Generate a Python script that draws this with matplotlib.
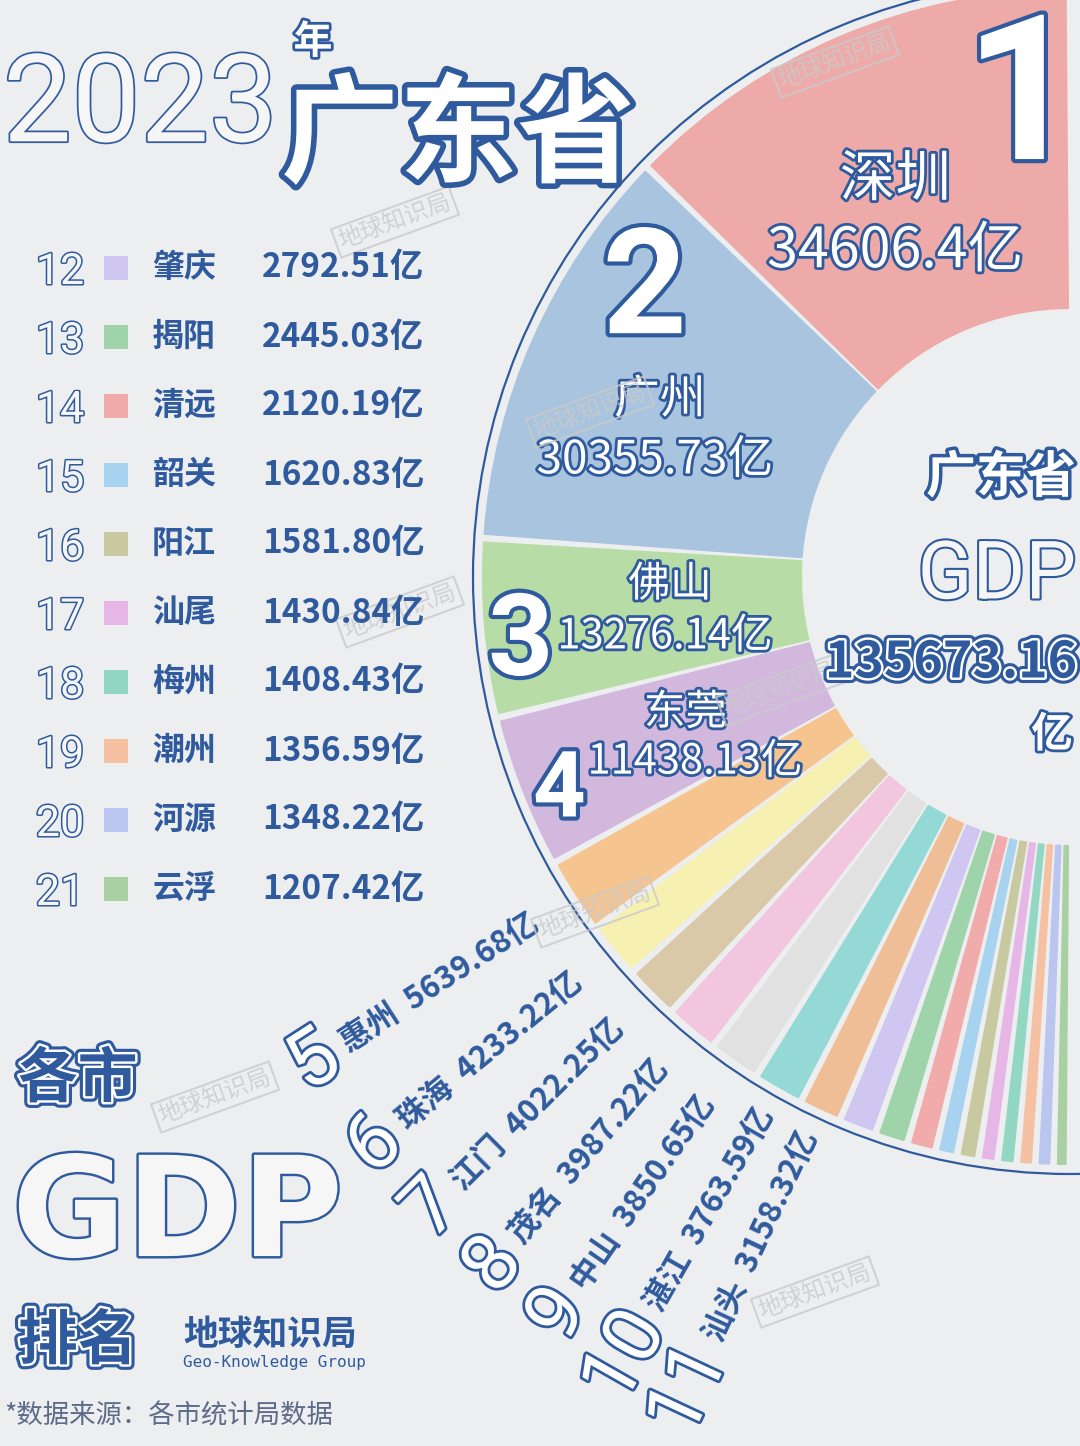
import numpy as np
import matplotlib
matplotlib.use('Agg')
import matplotlib.pyplot as plt
from matplotlib import patheffects as pe
from matplotlib.transforms import offset_copy

# ---- data ----
cities = ['深圳', '广州', '佛山', '东莞', '惠州', '珠海', '江门', '茂名', '中山', '湛江', '汕头',
          '肇庆', '揭阳', '清远', '韶关', '阳江', '汕尾', '梅州', '潮州', '河源', '云浮']
gdp = [34606.40, 30355.73, 13276.14, 11438.13, 5639.68, 4233.22, 4022.25, 3987.22,
       3850.65, 3763.59, 3158.32, 2792.51, 2445.03, 2120.19, 1620.83, 1581.80,
       1430.84, 1408.43, 1356.59, 1348.22, 1207.42]
gdp_labels = ['34606.4', '30355.73', '13276.14', '11438.13', '5639.68', '4233.22', '4022.25',
              '3987.22', '3850.65', '3763.59', '3158.32', '2792.51', '2445.03', '2120.19',
              '1620.83', '1581.80', '1430.84', '1408.43', '1356.59', '1348.22', '1207.42']
ranks = list(range(1, 22))
province_total = 135673.16

bar_colors = ['#eeaaa8', '#a9c4de', '#b7dca6', '#d3b8de', '#f5c48f', '#f6f1b1', '#d9c9a9',
              '#f1c6de', '#e1e1e1', '#94d9d6', '#efbe97', '#cfc6f1', '#9fd4aa', '#f1abab',
              '#a8d3f0', '#c9c9a1', '#e6b7e6', '#91d7c1', '#f5c1a2', '#bac5f0', '#a9d0a2']

BLUE = '#2f5b9e'
BG = '#edeeef'
HOLLOW = '#f6f6f6'
LATIN = ['Roboto', 'Liberation Sans', 'DejaVu Sans']
plt.rcParams['font.family'] = ['Noto Sans CJK SC', 'DejaVu Sans']

W, H = 1080, 1446
fig = plt.figure(figsize=(W / 100, H / 100), dpi=100, facecolor=BG)

# ---- radial bars: angle share = GDP share over a half circle ----
CX, CY, R_CIRCLE = 1070, 577, 597
BAR_IN, BAR_OUT = 269, 587
GAP = np.deg2rad(0.85)

vals = np.array(gdp)
span = np.pi * vals / vals.sum()
start = np.pi / 2 + np.concatenate([[0], np.cumsum(span)[:-1]])
mid = start + span / 2

axp = fig.add_axes([(CX - R_CIRCLE) / W, (H - CY - R_CIRCLE) / H, 2 * R_CIRCLE / W, 2 * R_CIRCLE / H],
                   projection='polar')
axp.set_facecolor('none')
axp.set_ylim(0, R_CIRCLE)
axp.bar(mid, BAR_OUT - BAR_IN, width=span - GAP, bottom=BAR_IN, color=bar_colors,
        edgecolor=bar_colors, linewidth=1.5, joinstyle='round')
axp.grid(False)
axp.set_xticks([])
axp.set_yticks([])
axp.spines['polar'].set_color(BLUE)
axp.spines['polar'].set_linewidth(1.6)

white_out = lambda lw: [pe.withStroke(linewidth=lw, foreground=BLUE)]
heavy = [pe.Stroke(linewidth=8, foreground=BLUE), pe.Stroke(linewidth=3.5, foreground='white'), pe.Normal()]
hollow = lambda lw: [pe.Stroke(linewidth=lw, foreground=BLUE), pe.Normal()]


def down(trans, fs, k):
    # shift glyphs so the visible ink, not the layout box, sits on the anchor
    return offset_copy(trans, fig=fig, x=0, y=-k * fs, units='points')


# labels inside the four big bars: (name dθ, name r, value dθ, value r, rank dθ, rank r, label fs, rank fs)
big_layout = [(0.6, 437, 5.0, 373, -17.5, 497, 40, 146),
              (0.2, 448, 7.8, 432, -11.2, 520, 33, 106),
              (-4.3, 400, 3.0, 409, 0.7, 552, 30, 82),
              (-2.3, 407, 4.5, 417, 0.4, 550, 30, 66)]
for i, (nd, nr, vd, vr, rd, rr, fs, rfs) in enumerate(big_layout):
    m = np.rad2deg(mid[i])
    axp.text(np.deg2rad(m + nd), nr, cities[i], fontsize=fs, color='white', ha='center', va='center',
             transform=down(axp.transData, fs, 0.07), path_effects=white_out(4))
    axp.text(np.deg2rad(m + vd), vr, gdp_labels[i] + '亿', fontsize=fs, color='white', ha='center',
             va='center', transform=down(axp.transData, fs, 0.07), path_effects=white_out(4))
    axp.text(np.deg2rad(m + rd), rr, str(ranks[i]), fontsize=rfs, color='white', ha='center', va='center',
             fontweight='bold', family=LATIN, transform=down(axp.transData, rfs, 0.105),
             path_effects=white_out(6))

# rotated labels for ranks 5-11, reading inward along each bar's ray
RANK_R, DIGIT_HALF = 898, 22
for i in range(4, 11):
    rot = np.rad2deg(mid[i]) - 180
    nd = len(str(ranks[i]))
    axp.text(mid[i], RANK_R - DIGIT_HALF * nd - 12, f'{cities[i]}  {gdp_labels[i]}亿', fontsize=22.5,
             fontweight='bold', color=BLUE, rotation=rot, rotation_mode='anchor', ha='left', va='center')
    axp.text(mid[i], RANK_R, str(ranks[i]), fontsize=58, color='white', rotation=rot, rotation_mode='anchor',
             ha='center', va='center', family=LATIN, path_effects=white_out(4))

# ---- overlay for text ----
ax = fig.add_axes([0, 0, 1, 1])
ax.set_xlim(0, W)
ax.set_ylim(H, 0)
ax.axis('off')

# watermarks
for (x, y) in [(835, 62), (395, 222), (590, 412), (400, 612), (780, 690), (595, 912), (215, 1097), (815, 1292)]:
    ax.text(x, y, '地球知识局', fontsize=17, color='#c9cacc', rotation=20, ha='center', va='center',
            alpha=0.8, bbox=dict(boxstyle='square,pad=0.15', fc='none', ec='#c9cacc', lw=1.5, alpha=0.8))

ax.text(3, 95, '2023', fontsize=88, family=LATIN, color=HOLLOW, ha='left', va='center',
        transform=down(ax.transData, 88, 0.105), path_effects=hollow(2.5))
ax.text(313, 42, '年', fontsize=28, fontweight='bold', color='white', ha='center', va='center',
        path_effects=white_out(4))
ax.text(281, 130, '广东省', fontsize=85, fontweight='bold', color='white', ha='left', va='center',
        transform=down(ax.transData, 85, 0.07), path_effects=white_out(8))

ax.text(1076, 478, '广东省', fontsize=36, fontweight='bold', color='white', ha='right', va='center',
        path_effects=white_out(5))
ax.text(1076, 568, 'GDP', fontsize=58, family=LATIN, color=HOLLOW, ha='right', va='center',
        transform=down(ax.transData, 58, 0.105), path_effects=hollow(3))
ax.text(1077, 663, f'{province_total:.2f}', fontsize=36, fontweight='bold', color=BLUE, ha='right',
        va='center', path_effects=heavy)
ax.text(1052, 735, '亿', fontsize=30, fontweight='bold', color='white', ha='center', va='center',
        path_effects=white_out(4))

# left list: ranks 12-21
ROW0, ROW_STEP = 268, 69
rows = np.arange(11, 21)
ys = ROW0 + (rows - 11) * ROW_STEP
ax.scatter(np.full(len(rows), 116), ys, marker='s', s=310, c=[bar_colors[i] for i in rows], linewidths=0)
for y, i in zip(ys, rows):
    ax.text(60, y, str(ranks[i]), fontsize=31, family=LATIN, color=HOLLOW, ha='center', va='center',
            transform=down(ax.transData, 31, 0.105), path_effects=hollow(2.2))
    ax.text(152, y, cities[i], fontsize=23, fontweight='bold', color=BLUE, ha='left', va='center')
    ax.text(262, y, gdp_labels[i] + '亿', fontsize=24, fontweight='bold', color=BLUE, ha='left', va='center')

# bottom-left block
ax.text(18, 1080, '各市', fontsize=43, fontweight='bold', color=BLUE, ha='left', va='center',
        path_effects=heavy)
ax.text(12, 1203, 'GDP', fontsize=100, fontweight='bold', family=['DejaVu Sans'], color=HOLLOW,
        ha='left', va='center', transform=down(ax.transData, 100, 0.105), path_effects=hollow(3.5))
ax.text(18, 1342, '排名', fontsize=43, fontweight='bold', color=BLUE, ha='left', va='center',
        path_effects=heavy)
ax.text(183, 1334, '地球知识局', fontsize=25, fontweight='bold', color=BLUE, ha='left', va='center')
ax.text(183, 1362, 'Geo-Knowledge Group', fontsize=11.5, family=['DejaVu Sans Mono'], color=BLUE,
        ha='left', va='center')
ax.text(4, 1416, '*数据来源：各市统计局数据', fontsize=19, color='#5d6b88', ha='left', va='center')

fig.savefig('out.png', dpi=100, facecolor=BG)
